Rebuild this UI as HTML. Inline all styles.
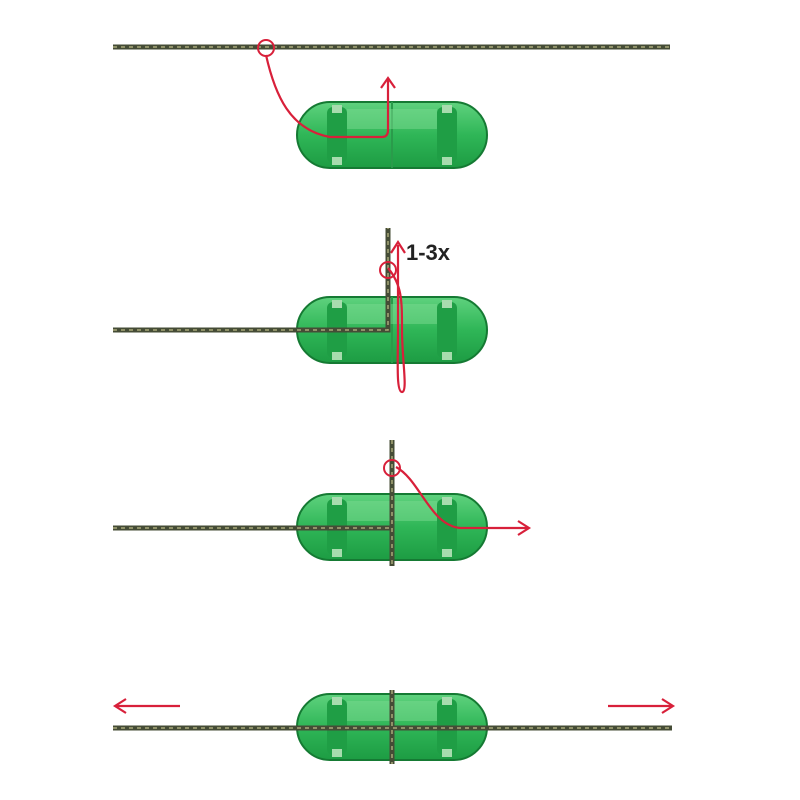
<!DOCTYPE html>
<html><head><style>body{margin:0;background:#fff}svg{display:block}</style></head><body>
<svg width="800" height="800" viewBox="0 0 800 800" xmlns="http://www.w3.org/2000/svg">
<defs>
<linearGradient id="g" x1="0" y1="0" x2="0" y2="1">
<stop offset="0" stop-color="#5fd27e"/><stop offset="0.5" stop-color="#2fb657"/><stop offset="1" stop-color="#1d9c43"/>
</linearGradient>
<g id="cap">
<rect x="-95" y="-33" width="190" height="66" rx="33" fill="url(#g)" stroke="#157a33" stroke-width="2"/>
<rect x="-65" y="-28" width="20" height="56" rx="6" fill="#1f9e45"/>
<rect x="45" y="-28" width="20" height="56" rx="6" fill="#1f9e45"/>
<rect x="-60" y="-30" width="10" height="8" fill="#a7dcae"/>
<rect x="-60" y="22" width="10" height="8" fill="#a7dcae"/>
<rect x="50" y="-30" width="10" height="8" fill="#a7dcae"/>
<rect x="50" y="22" width="10" height="8" fill="#a7dcae"/>
<line x1="0" y1="-33" x2="0" y2="33" stroke="#2a9b4b" stroke-width="2"/>
<rect x="-45" y="-26" width="90" height="20" fill="#7ad990" opacity="0.5"/>
</g>
</defs>
<g stroke-linecap="butt" fill="none">
<!-- 1 -->
<path d="M113 47 H670" stroke="#454c36" stroke-width="5"/>
<path d="M113 47 H670" stroke="#a8a878" stroke-width="1.5" stroke-dasharray="4 4"/>
<use href="#cap" x="392" y="135"/>
<path d="M266 55 C275 95 290 130 330 137 L382 137 Q388 137 388 130 L388 80" stroke="#d8203a" stroke-width="2.2"/>
<path d="M381 88 L388 78 L395 88" stroke="#d8203a" stroke-width="2.2"/>
<circle cx="266" cy="48" r="8" stroke="#d8203a" stroke-width="2"/>
<!-- 2 -->
<use href="#cap" x="392" y="330"/>
<path d="M113 330 H388 V228" stroke="#454c36" stroke-width="5"/>
<path d="M113 330 H388 V228" stroke="#a8a878" stroke-width="1.5" stroke-dasharray="4 4"/>
<path d="M388 268 C402 285 402 300 402 330 C402 360 408 392 402 392 C396 392 398 360 398 330 L398 245" stroke="#d8203a" stroke-width="2.2"/>
<path d="M391 253 L398 242 L405 253" stroke="#d8203a" stroke-width="2.2"/>
<circle cx="388" cy="270" r="8" stroke="#d8203a" stroke-width="2"/>
<text x="406" y="260" font-family="Liberation Sans, sans-serif" font-weight="bold" font-size="22" fill="#222">1-3x</text>
<!-- 3 -->
<use href="#cap" x="392" y="527"/>
<path d="M113 528 H392 M392 440 V566" stroke="#454c36" stroke-width="5"/>
<path d="M113 528 H392 M392 440 V566" stroke="#a8a878" stroke-width="1.5" stroke-dasharray="4 4"/>
<path d="M396 467 C420 480 430 525 460 528 L527 528" stroke="#d8203a" stroke-width="2.2"/>
<path d="M518 521 L529 528 L518 535" stroke="#d8203a" stroke-width="2.2"/>
<circle cx="392" cy="468" r="8" stroke="#d8203a" stroke-width="2"/>
<!-- 4 -->
<use href="#cap" x="392" y="727"/>
<path d="M113 728 H672 M392 690 V764" stroke="#454c36" stroke-width="5"/>
<path d="M113 728 H672 M392 690 V764" stroke="#a8a878" stroke-width="1.5" stroke-dasharray="4 4"/>
<line x1="116" y1="706" x2="180" y2="706" stroke="#d8203a" stroke-width="2.2"/>
<path d="M126 699 L115 706 L126 713" stroke="#d8203a" stroke-width="2.2"/>
<line x1="608" y1="706" x2="672" y2="706" stroke="#d8203a" stroke-width="2.2"/>
<path d="M662 699 L673 706 L662 713" stroke="#d8203a" stroke-width="2.2"/>
</g>
</svg>
</body></html>
